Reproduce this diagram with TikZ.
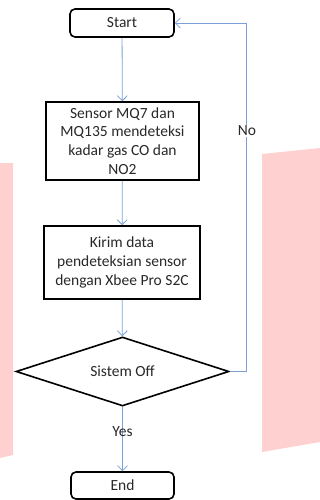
\documentclass[tikz,border=0pt]{standalone}
\usepackage{fontspec}
\setmainfont{Carlito}
\usetikzlibrary{shapes.geometric,arrows.meta}
\definecolor{linkblue}{RGB}{122,160,214}
\definecolor{wmpink}{RGB}{255,208,208}
\definecolor{txtgray}{RGB}{40,40,40}
\tikzset{
  boxbase/.style={draw=black,line width=1.6pt,fill=white,inner sep=0pt,align=center,
    text=txtgray,font=\fontsize{15.5}{18.7}\selectfont},
  termbox/.style={boxbase,rounded corners=5pt},
  procbox/.style={boxbase},
  decbox/.style={boxbase,diamond,aspect=3},
  flow/.style={draw=linkblue,line width=0.8pt,-{Straight Barb[length=5pt,width=10pt]}},
  lbl/.style={text=txtgray,font=\fontsize{15.5}{18}\selectfont,inner sep=1pt}
}
\begin{document}
\begin{tikzpicture}[x=1pt,y=-1pt]
\useasboundingbox (0,0) rectangle (320,500);
% watermark shapes
\fill[wmpink] (0,163) -- (13,163) -- (13,455) -- (0,458) -- cycle;
\fill[wmpink] (262,154) -- (320,148) -- (320,442) -- (262,452) -- cycle;
% nodes
\node[termbox,minimum width=104pt,minimum height=28pt] (start) at (122,23) {Start};
\node[procbox,minimum width=153pt,minimum height=78pt] (sense) at (122.5,141)
  {Sensor MQ7 dan\\MQ135 mendeteksi\\kadar gas CO dan\\NO2};
\node[procbox,minimum width=156pt,minimum height=73pt] (send) at (122,262.5)
  {Kirim data\\pendeteksian sensor\\dengan Xbee Pro S2C};
\node[decbox,minimum width=213pt,minimum height=69pt] (off) at (122.5,371.5) {Sistem Off};
\node[termbox,minimum width=103pt,minimum height=27pt] (end) at (122.5,485.5) {End};
\coordinate (turn) at (246,371.5);
% connectors
\draw[flow] (start) -- (sense);
\draw[flow] (sense) -- (send);
\draw[flow] (send) -- (off);
\draw[flow] (off) -- node[lbl,pos=0.38]{Yes} (end);
\draw[flow] (off.east) -- (turn) |- node[lbl,fill=white,pos=0.345,xshift=1pt]{No} (start.east);
\end{tikzpicture}
\end{document}
